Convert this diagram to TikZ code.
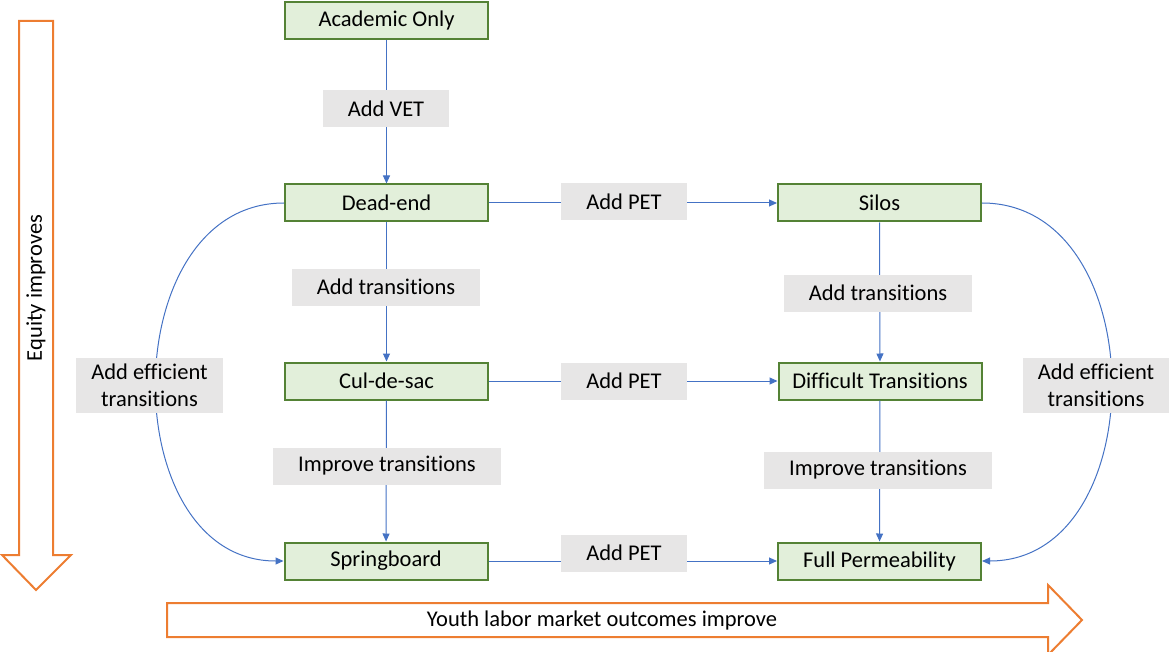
\documentclass[tikz,border=0pt]{standalone}
\usepackage{fontspec}
\setmainfont{Carlito}[Ligatures=NoCommon]
\usetikzlibrary{positioning,arrows.meta}
\definecolor{myblue}{HTML}{4472C4}
\definecolor{mygreen}{HTML}{548235}
\definecolor{mylightgreen}{HTML}{E2EFDA}
\definecolor{mygray}{HTML}{E7E6E6}
\definecolor{myorange}{HTML}{ED7D31}

\begin{document}
\begin{tikzpicture}[x=1pt,y=-1pt,font=\fontsize{22.5}{27}\selectfont,
  stage/.style={draw=mygreen,line width=2pt,fill=mylightgreen,minimum width=203pt,minimum height=37pt,inner sep=0pt},
  step label/.style={fill=mygray,minimum height=37pt,inner xsep=25pt,inner ysep=0pt},
  link/.style={myblue,line width=1pt,-{Triangle[length=8pt,width=7pt]}},
  bigarrow/.style={draw=myorange,line width=2pt,fill=white}]
  \useasboundingbox (0,0) rectangle (1169,652);

  % big arrows
  \draw[bigarrow] (19,21) -- (53,21) -- (53,555) -- (71,555) -- (36,590) -- (2,555) -- (19,555) -- cycle;
  \node[rotate=90] (equity) at (36,288) {Equity improves};
  \draw[bigarrow] (167,603) -- (1048,603) -- (1048,585) -- (1082,620) -- (1048,655) -- (1048,637) -- (167,637) -- cycle;
  \node (youth) at (602,620) {Youth labor market outcomes improve};

  % stages
  \node[stage] (acad) at (386.5,21) {Academic Only};
  \node[stage] (dead) at (386.5,203) {Dead-end};
  \node[stage] (silos) at (879.5,203) {Silos};
  \node[stage] (cul) at (386.5,381) {Cul-de-sac};
  \node[stage] (diff) at (880,381) {Difficult Transitions};
  \node[stage] (spring) at (386,561) {Springboard};
  \node[stage] (full) at (879.5,561) {Full Permeability};

  % connectors
  \draw[link] (acad) -- (dead);
  \draw[link] (dead) -- (silos);
  \draw[link] (dead) -- (cul);
  \draw[link] (silos) -- (diff);
  \draw[link] (cul) -- (diff);
  \draw[link] (cul) -- (spring);
  \draw[link] (diff) -- (full);
  \draw[link] (spring) -- (full);
  \draw[link] (dead.west) .. controls +(-170,0) and +(-170,0) .. (spring.west);
  \draw[link] (silos.east) .. controls +(172,0) and +(172,0) .. (full.east);

  % labels
  \node[step label] (vet) at (386,109) {Add VET};
  \node[step label] (pet1) at (624,202) {Add PET};
  \node[step label] (pet2) at (624,381) {Add PET};
  \node[step label] (pet3) at (624,553) {Add PET};
  \node[step label] (trL) at (386,287) {Add transitions};
  \node[step label] (trR) at (878,293) {Add transitions};
  \node[step label] (impL) at (387,466) {Improve transitions};
  \node[step label] (impR) at (878,470) {Improve transitions};
  \node[step label,align=center,inner xsep=15pt,minimum height=55pt] (effL) at (149.5,385) {Add efficient\\transitions};
  \node[step label,align=center,inner xsep=15pt,minimum height=55pt] (effR) at (1096,385) {Add efficient\\transitions};
\end{tikzpicture}
\end{document}
